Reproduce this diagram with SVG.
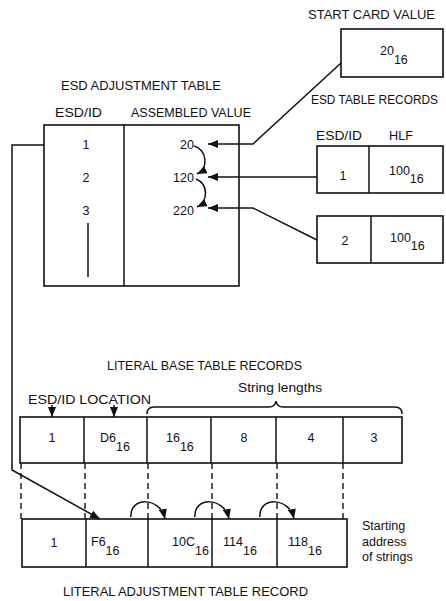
<svg xmlns="http://www.w3.org/2000/svg" width="446" height="601" viewBox="0 0 446 601">
<defs>
<style>
.box{fill:#fff;stroke:#111;stroke-width:1.6}
.ln{fill:none;stroke:#111;stroke-width:1.5}
.dash{fill:none;stroke:#111;stroke-width:1.4;stroke-dasharray:6 4}
text{font-family:"Liberation Sans",Arial,sans-serif;fill:#111}
.h{font-size:13px}
.n{font-size:12.5px;text-anchor:middle}
.s{font-size:12.5px}
</style>
<marker id="ah" viewBox="0 0 10 8" refX="10" refY="4" markerWidth="10" markerHeight="8" markerUnits="userSpaceOnUse" orient="auto">
<path d="M0,0 L10,4 L0,8 Z" fill="#111"/>
</marker>
</defs>
<rect width="446" height="601" fill="#fff"/>

<g id="start-card">
<text class="h" x="308" y="19" textLength="127" lengthAdjust="spacingAndGlyphs">START CARD VALUE</text>
<rect class="box" x="341" y="29" width="102" height="48"/>
<text class="s" x="380" y="55">20<tspan dy="9">16</tspan></text>
</g>

<g id="esd-adjustment-table">
<text class="h" x="61" y="90" textLength="160" lengthAdjust="spacingAndGlyphs">ESD ADJUSTMENT TABLE</text>
<text class="h" x="55" y="117" textLength="47" lengthAdjust="spacingAndGlyphs">ESD/ID</text>
<text class="h" x="131" y="117" textLength="120" lengthAdjust="spacingAndGlyphs">ASSEMBLED VALUE</text>
<rect class="box" x="44" y="125" width="195" height="161"/>
<line class="ln" x1="124" y1="125" x2="124" y2="286"/>
<text class="n" x="86" y="149">1</text>
<text class="n" x="86" y="182">2</text>
<text class="n" x="86" y="215">3</text>
<line class="ln" x1="88" y1="223" x2="88" y2="277"/>
<text class="s" x="180" y="149">20</text>
<text class="s" x="173" y="182">120</text>
<text class="s" x="173" y="215">220</text>
</g>

<g id="esd-table-records">
<text x="311" y="104" font-size="12" textLength="127" lengthAdjust="spacingAndGlyphs">ESD TABLE RECORDS</text>
<text class="h" x="316" y="140" textLength="46" lengthAdjust="spacingAndGlyphs">ESD/ID</text>
<text class="h" x="389" y="140" textLength="24" lengthAdjust="spacingAndGlyphs">HLF</text>
</g>
<g id="esd-record-1">
<rect class="box" x="317" y="146" width="126" height="47"/>
<line class="ln" x1="369" y1="146" x2="369" y2="193"/>
<text class="n" x="343" y="180">1</text>
<text class="s" x="389" y="175">100<tspan dy="8">16</tspan></text>
</g>
<g id="esd-record-2">
<rect class="box" x="317" y="216" width="126" height="47"/>
<line class="ln" x1="371" y1="216" x2="371" y2="263"/>
<text class="n" x="345" y="245">2</text>
<text class="s" x="390" y="242">100<tspan dy="8">16</tspan></text>
</g>

<g id="literal-base-table">
<text class="h" x="107" y="370" textLength="195" lengthAdjust="spacingAndGlyphs">LITERAL BASE TABLE RECORDS</text>
<text class="s" x="238" y="392" textLength="84" lengthAdjust="spacingAndGlyphs">String lengths</text>
<text class="h" x="28" y="404" textLength="123" lengthAdjust="spacingAndGlyphs">ESD/ID LOCATION</text>
<rect class="box" x="20" y="417" width="382" height="46"/>
<line class="ln" x1="84" y1="417" x2="84" y2="463"/>
<line class="ln" x1="147" y1="417" x2="147" y2="463"/>
<line class="ln" x1="211" y1="417" x2="211" y2="463"/>
<line class="ln" x1="276" y1="417" x2="276" y2="463"/>
<line class="ln" x1="343" y1="417" x2="343" y2="463"/>
<text class="n" x="52" y="442">1</text>
<text class="s" x="100" y="442">D6<tspan dy="9">16</tspan></text>
<text class="s" x="166" y="442">16<tspan dy="9">16</tspan></text>
<text class="n" x="244" y="442">8</text>
<text class="n" x="311" y="442">4</text>
<text class="n" x="374" y="442">3</text>
</g>

<g id="literal-adjustment-table">
<rect class="box" x="22" y="519" width="325" height="48"/>
<line class="ln" x1="86" y1="519" x2="86" y2="567"/>
<line class="ln" x1="148" y1="519" x2="148" y2="567"/>
<line class="ln" x1="212" y1="519" x2="212" y2="567"/>
<line class="ln" x1="277" y1="519" x2="277" y2="567"/>
<text class="n" x="54" y="547">1</text>
<text class="s" x="91" y="546">F6<tspan dy="9">16</tspan></text>
<text class="s" x="172" y="546">10C<tspan dy="9">16</tspan></text>
<text class="s" x="223" y="546">114<tspan dy="9">16</tspan></text>
<text class="s" x="288" y="546">118<tspan dy="9">16</tspan></text>
<text class="s" x="362" y="530">Starting</text>
<text class="s" x="362" y="546">address</text>
<text class="s" x="362" y="561">of strings</text>
<text class="h" x="63" y="596" textLength="245" lengthAdjust="spacingAndGlyphs">LITERAL ADJUSTMENT TABLE RECORD</text>
</g>

<g id="connectors">
<polyline class="ln" points="341,63 253,144 208,144" marker-end="url(#ah)"/>
<line class="ln" x1="317" y1="177" x2="208" y2="177" marker-end="url(#ah)"/>
<polyline class="ln" points="317,240 253,208 208,208" marker-end="url(#ah)"/>
<path class="ln" d="M194,146 C207,150 209,168 197,174" marker-end="url(#ah)"/>
<path class="ln" d="M196,179 C208,184 209,201 197,207" marker-end="url(#ah)"/>
<polyline class="ln" points="44,145 12,145 12,470 100,519" marker-end="url(#ah)"/>
<line class="ln" x1="52" y1="405" x2="52" y2="417" marker-end="url(#ah)"/>
<line class="ln" x1="114" y1="405" x2="114" y2="417" marker-end="url(#ah)"/>
<path class="ln" d="M147,414 Q147,407 154,407 L269,407 Q275,407 276,401 Q277,407 283,407 L395,407 Q402,407 402,414"/>
<line class="dash" x1="21" y1="463" x2="21" y2="519"/>
<line class="dash" x1="85" y1="463" x2="85" y2="519"/>
<line class="dash" x1="148" y1="463" x2="148" y2="519"/>
<line class="dash" x1="212" y1="463" x2="212" y2="519"/>
<line class="dash" x1="277" y1="463" x2="277" y2="519"/>
<line class="dash" x1="343" y1="463" x2="343" y2="519"/>
<path class="ln" d="M131,517 C129,497 160,496 165,519" marker-end="url(#ah)"/>
<path class="ln" d="M195,517 C193,497 224,496 229,519" marker-end="url(#ah)"/>
<path class="ln" d="M260,517 C258,497 289,496 294,519" marker-end="url(#ah)"/>
</g>
</svg>
